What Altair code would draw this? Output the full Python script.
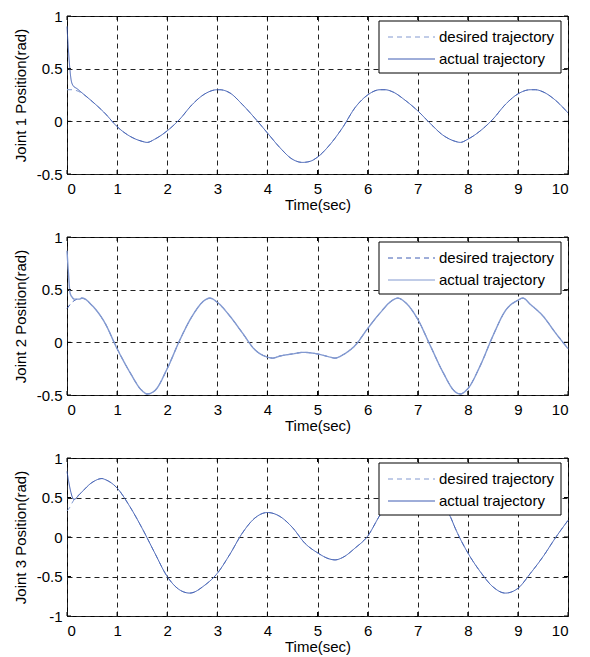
import altair as alt
import pandas as pd

# ---------------- data ----------------
SERIES = ["desired trajectory", "actual trajectory"]

# Joint 1
j1_t = [0, 0.1, 0.2, 0.35, 0.5, 0.75, 1.0, 1.25, 1.5, 1.6, 1.75, 2.0, 2.25, 2.5, 2.75, 3.0, 3.05,
        3.25, 3.5, 3.75, 4.0, 4.25, 4.5, 4.7, 4.85, 5.0, 5.25, 5.5, 5.75, 6.0, 6.25, 6.35, 6.5,
        6.75, 7.0, 7.25, 7.5, 7.75, 7.85, 8.0, 8.25, 8.5, 8.75, 9.0, 9.25, 9.35, 9.5, 9.75, 10.0]
j1_des = [0.30, 0.30, 0.29, 0.25, 0.19, 0.08, -0.05, -0.14, -0.19, -0.20, -0.17, -0.09, 0.02, 0.16,
          0.26, 0.30, 0.30, 0.27, 0.16, 0.03, -0.11, -0.25, -0.36, -0.39, -0.38, -0.34, -0.22, -0.06,
          0.13, 0.25, 0.30, 0.30, 0.28, 0.20, 0.10, -0.02, -0.13, -0.19, -0.20, -0.17, -0.09, 0.02,
          0.16, 0.26, 0.30, 0.30, 0.28, 0.20, 0.08]
j1_act_start_t = [0, 0.04, 0.08, 0.12, 0.2]
j1_act_start = [0.90, 0.60, 0.40, 0.34, 0.31]

# Joint 2
j2_t = [0, 0.1, 0.2, 0.3, 0.5, 0.75, 1.0, 1.25, 1.5, 1.6, 1.75, 2.0, 2.25, 2.5, 2.75, 2.85, 3.0,
        3.25, 3.5, 3.75, 4.0, 4.1, 4.25, 4.5, 4.72, 5.0, 5.25, 5.35, 5.5, 5.75, 6.0, 6.25, 6.5, 6.6,
        6.75, 7.0, 7.25, 7.5, 7.75, 7.85, 8.0, 8.25, 8.5, 8.75, 9.0, 9.1, 9.25, 9.5, 9.75, 10.0]
j2_des = [0.32, 0.38, 0.41, 0.42, 0.35, 0.19, -0.06, -0.28, -0.46, -0.49, -0.46, -0.25, 0.02, 0.25,
          0.40, 0.42, 0.38, 0.25, 0.09, -0.07, -0.14, -0.15, -0.13, -0.11, -0.095, -0.11, -0.14,
          -0.15, -0.12, -0.03, 0.13, 0.28, 0.40, 0.42, 0.38, 0.22, -0.03, -0.28, -0.47, -0.49, -0.44,
          -0.22, 0.06, 0.30, 0.40, 0.42, 0.36, 0.25, 0.09, -0.06]
j2_act_start_t = [0, 0.03, 0.06, 0.1, 0.15, 0.25]
j2_act_start = [0.87, 0.65, 0.47, 0.43, 0.41, 0.41]

# Joint 3
j3_t = [0, 0.05, 0.1, 0.15, 0.25, 0.5, 0.7, 0.75, 1.0, 1.25, 1.5, 1.75, 2.0, 2.25, 2.45, 2.75, 3.0,
        3.25, 3.5, 3.75, 4.0, 4.25, 4.5, 4.75, 5.0, 5.25, 5.35, 5.5, 5.75, 6.0, 6.25, 6.5, 6.75,
        6.95, 7.25, 7.5, 7.65, 7.75, 8.0, 8.25, 8.5, 8.75, 9.0, 9.25, 9.5, 9.75, 10.0]
j3_des = [0.33, 0.37, 0.43, 0.48, 0.54, 0.69, 0.74, 0.73, 0.62, 0.39, 0.11, -0.20, -0.50, -0.67,
          -0.71, -0.61, -0.46, -0.22, 0.05, 0.24, 0.31, 0.26, 0.12, -0.08, -0.20, -0.28, -0.29,
          -0.26, -0.14, 0.01, 0.28, 0.50, 0.65, 0.71, 0.62, 0.42, 0.26, 0.11, -0.20, -0.44, -0.63,
          -0.71, -0.65, -0.46, -0.25, -0.01, 0.21]
j3_act_start_t = [0, 0.04, 0.08, 0.13]
j3_act_start = [0.83, 0.68, 0.56, 0.48]

x_ticks = [0, 1, 2, 3, 4, 5, 6, 7, 8, 9, 10]
y_ticks_12 = [-0.5, 0, 0.5, 1]
y_ticks_3 = [-1, -0.5, 0, 0.5, 1]

LIGHT = "#8299d0"
DARK = "#3f5db3"

W, H = 501, 158
FONT = "Liberation Sans"
FS = 15

# legend box geometry (pixels inside the plot area)
LEG_X0, LEG_X1, LEG_Y0, LEG_Y1 = 312, 494, 5, 57
LEG_ROWS = [21, 43]
LEG_SYM = (321, 368)
LEG_TXT = 372


def frames(t, des, st, sv):
    d = pd.DataFrame({"t": t, "pos": des, "series": SERIES[0]})
    tail_t = [x for x in t if x > st[-1]]
    tail_v = des[len(t) - len(tail_t):]
    a = pd.DataFrame({"t": list(st) + tail_t, "pos": list(sv) + list(tail_v), "series": SERIES[1]})
    return d, a


def panel(t, des, st, sv, ydom, yt, ytitle, colors, act_width=1.0):
    d, a = frames(t, des, st, sv)
    xs = alt.Scale(domain=[0, 10], nice=False, zero=False)
    ys = alt.Scale(domain=ydom, nice=False, zero=False)
    col = alt.Color("series:N", scale=alt.Scale(domain=SERIES, range=colors), legend=None)
    dash = alt.StrokeDash("series:N", scale=alt.Scale(domain=SERIES, range=[[5, 4], [1, 0]]),
                          legend=None)
    xenc = alt.X("t:Q", scale=xs,
                 axis=alt.Axis(values=x_ticks, title="Time(sec)", grid=True, tickSize=0,
                               domain=False, labelPadding=7, titlePadding=1))
    yenc = alt.Y("pos:Q", scale=ys,
                 axis=alt.Axis(values=yt, title=ytitle, grid=True, tickSize=0, domain=False,
                               labelPadding=5, titlePadding=8,
                               labelExpr="'' + datum.value"))
    des_line = alt.Chart(d).mark_line(strokeWidth=1, interpolate="monotone").encode(
        x=xenc, y=yenc, color=col, strokeDash=dash)
    act_line = alt.Chart(a).mark_line(strokeWidth=act_width, interpolate="monotone").encode(
        x=xenc, y=yenc, color=col, strokeDash=dash)

    xt = pd.DataFrame({"t": x_ticks})
    ytd = pd.DataFrame({"pos": yt})
    tick_style = dict(color="black", strokeWidth=1)
    xb = alt.Chart(xt).mark_rule(**tick_style).encode(x=xenc, y=alt.value(H), y2=alt.value(H - 4))
    xtp = alt.Chart(xt).mark_rule(**tick_style).encode(x=xenc, y=alt.value(0), y2=alt.value(4))
    yl = alt.Chart(ytd).mark_rule(**tick_style).encode(y=yenc, x=alt.value(0), x2=alt.value(4))
    yr = alt.Chart(ytd).mark_rule(**tick_style).encode(y=yenc, x=alt.value(W - 4), x2=alt.value(W))

    # legend box
    leg_df = pd.DataFrame({"series": SERIES})
    box = alt.Chart(leg_df.head(1)).mark_rect(fill="white", stroke="black", strokeWidth=1).encode(
        x=alt.value(LEG_X0), x2=alt.value(LEG_X1), y=alt.value(LEG_Y0), y2=alt.value(LEG_Y1))
    leg_items = []
    for i, s in enumerate(SERIES):
        sd = pd.DataFrame({"series": [s]})
        leg_items.append(alt.Chart(sd).mark_rule(strokeWidth=1).encode(
            x=alt.value(LEG_SYM[0]), x2=alt.value(LEG_SYM[1]), y=alt.value(LEG_ROWS[i]),
            color=col, strokeDash=dash))
        leg_items.append(alt.Chart(sd).mark_text(
            align="left", baseline="middle", fontSize=FS, font=FONT, color="black").encode(
            x=alt.value(LEG_TXT), y=alt.value(LEG_ROWS[i]), text="series:N"))
    return alt.layer(des_line, act_line, xb, xtp, yl, yr, box, *leg_items).properties(
        width=W, height=H)


p1 = panel(j1_t, j1_des, j1_act_start_t, j1_act_start, [-0.5, 1], y_ticks_12,
           "Joint 1 Position(rad)", [LIGHT, DARK])
p2 = panel(j2_t, j2_des, j2_act_start_t, j2_act_start, [-0.5, 1], y_ticks_12,
           "Joint 2 Position(rad)", [DARK, LIGHT], act_width=1.4)
p3 = panel(j3_t, j3_des, j3_act_start_t, j3_act_start, [-1, 1], y_ticks_3,
           "Joint 3 Position(rad)", [LIGHT, DARK])

chart = alt.vconcat(p1, p2, p3, spacing=16).resolve_scale(
    x="independent", y="independent", color="independent", strokeDash="independent"
).configure(
    padding={"left": 4, "top": 0, "right": 5, "bottom": 0},
    font=FONT,
).configure_view(
    stroke="black", strokeWidth=1
).configure_axis(
    labelFont=FONT, titleFont=FONT, labelFontSize=FS, titleFontSize=FS,
    labelColor="black", titleColor="black", titleFontWeight="normal",
    gridColor="#222222", gridDash=[5, 4], gridWidth=1, gridOpacity=1,
)

chart.save("out.html", embed_options={"renderer": "svg", "actions": False})
